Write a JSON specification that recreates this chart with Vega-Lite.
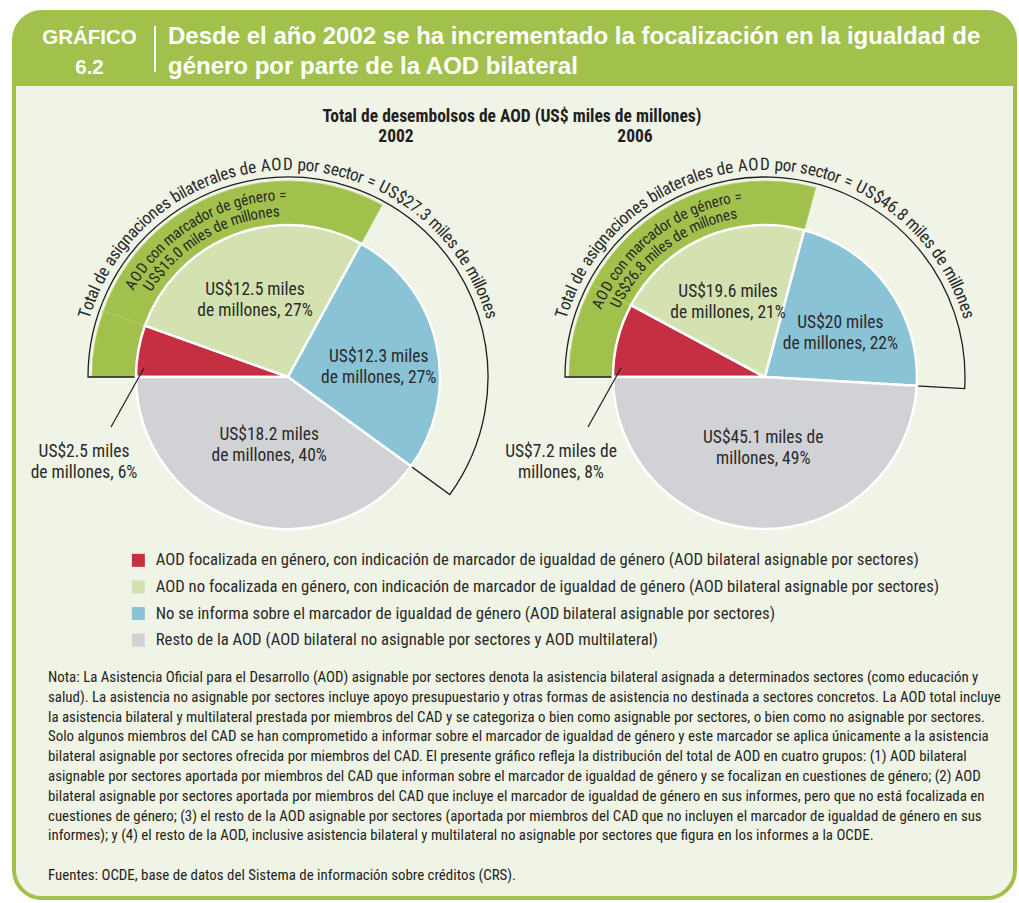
{
  "$schema": "https://vega.github.io/schema/vega-lite/v6.json",
  "width": 1019,
  "height": 903,
  "autosize": {"type": "fit", "contains": "padding"},
  "padding": {"left": 14, "top": 11, "right": 4, "bottom": 5},
  "background": "white",
  "config": {
    "view": {"fill": "#f0f4e6", "stroke": "#a2c14c", "strokeWidth": 4, "cornerRadius": 28},
    "text": {"font": "Roboto Condensed", "color": "#2a2a2a"}
  },
  "datasets": {
    "slices": [
      {"year": "2002", "order": 1, "cat": "AOD focalizada en género, con indicación de marcador de igualdad de género (AOD bilateral asignable por sectores)", "value": 2.5, "label": "US$2.5 miles\nde millones, 6%"},
      {"year": "2002", "order": 2, "cat": "AOD no focalizada en género, con indicación de marcador de igualdad de género (AOD bilateral asignable por sectores)", "value": 12.5, "label": "US$12.5 miles\nde millones, 27%"},
      {"year": "2002", "order": 3, "cat": "No se informa sobre el marcador de igualdad de género (AOD bilateral asignable por sectores)", "value": 12.3, "label": "US$12.3 miles\nde millones, 27%"},
      {"year": "2002", "order": 4, "cat": "Resto de la AOD  (AOD bilateral no asignable por sectores y AOD multilateral)", "value": 18.2, "label": "US$18.2 miles\nde millones, 40%"},
      {"year": "2006", "order": 1, "cat": "AOD focalizada en género, con indicación de marcador de igualdad de género (AOD bilateral asignable por sectores)", "value": 7.2, "label": "US$7.2 miles de\nmillones, 8%"},
      {"year": "2006", "order": 2, "cat": "AOD no focalizada en género, con indicación de marcador de igualdad de género (AOD bilateral asignable por sectores)", "value": 19.6, "label": "US$19.6 miles\nde millones, 21%"},
      {"year": "2006", "order": 3, "cat": "No se informa sobre el marcador de igualdad de género (AOD bilateral asignable por sectores)", "value": 20, "label": "US$20 miles\nde millones, 22%"},
      {"year": "2006", "order": 4, "cat": "Resto de la AOD  (AOD bilateral no asignable por sectores y AOD multilateral)", "value": 45.1, "label": "US$45.1 miles de\nmillones, 49%"}
    ],
    "curved": [
      {"year": "2002", "part": "outer", "txt": "Total de asignaciones bilaterales de AOD por sector = US$27.3 miles de millones"},
      {"year": "2002", "part": "inner1", "txt": "AOD con marcador de género =", "marcador": 15.0, "total": 45.5},
      {"year": "2002", "part": "inner2", "txt": "US$15.0 miles de millones", "marcador": 15.0, "total": 45.5},
      {"year": "2006", "part": "outer", "txt": "Total de asignaciones bilaterales de AOD por sector = US$46.8 miles de millones"},
      {"year": "2006", "part": "inner1", "txt": "AOD con marcador de género =", "marcador": 26.8, "total": 91.9},
      {"year": "2006", "part": "inner2", "txt": "US$26.8 miles de millones", "marcador": 26.8, "total": 91.9}
    ]
  },
  "layer": [
    {
      "data": {"values": [{}]},
      "mark": {"type": "rect", "color": "#a2c14c", "cornerRadiusTopLeft": 28, "cornerRadiusTopRight": 28},
      "encoding": {"x": {"value": 0}, "x2": {"value": "width"}, "y": {"value": -1}, "y2": {"value": 74}}
    },
    {
      "data": {"values": [{}]},
      "mark": {"type": "text", "text": ["GRÁFICO", "6.2"], "font": "Liberation Sans", "fontWeight": "bold", "fontSize": 20.5, "color": "white", "align": "center", "baseline": "alphabetic", "lineHeight": 30},
      "encoding": {"x": {"value": 75.5}, "y": {"value": 32}}
    },
    {
      "data": {"values": [{}]},
      "mark": {"type": "rule", "color": "white", "strokeWidth": 2},
      "encoding": {"x": {"value": 141}, "y": {"value": 14}, "y2": {"value": 60}}
    },
    {
      "data": {"values": [{}]},
      "mark": {"type": "text", "text": ["Desde el año 2002 se ha incrementado la focalización en la igualdad de", "género por parte de la AOD bilateral"], "font": "Liberation Sans", "fontWeight": "bold", "fontSize": 24, "color": "white", "align": "left", "baseline": "alphabetic", "lineHeight": 30},
      "encoding": {"x": {"value": 154}, "y": {"value": 32}}
    },
    {
      "data": {"values": [{}]},
      "mark": {"type": "text", "text": "Total de desembolsos de AOD (US$ miles de millones)", "fontWeight": "bold", "fontSize": 17.5, "color": "#231f20", "align": "center", "baseline": "alphabetic"},
      "encoding": {"x": {"value": 498}, "y": {"value": 110}}
    },
    {
      "data": {"values": [{}]},
      "mark": {"type": "text", "text": "2002", "fontWeight": "bold", "fontSize": 17.5, "color": "#231f20", "align": "center", "baseline": "alphabetic"},
      "encoding": {"x": {"value": 382}, "y": {"value": 130}}
    },
    {
      "data": {"values": [{}]},
      "mark": {"type": "text", "text": "2006", "fontWeight": "bold", "fontSize": 17.5, "color": "#231f20", "align": "center", "baseline": "alphabetic"},
      "encoding": {"x": {"value": 621}, "y": {"value": 130}}
    },
    {
      "data": {"name": "slices"},
      "transform": [
        {"stack": "value", "groupby": ["year"], "sort": [{"field": "order"}], "as": ["v0", "v1"], "offset": "normalize"},
        {"filter": "datum.order <= 2"}
      ],
      "mark": {"type": "arc", "innerRadius": 152, "outerRadius": 196, "color": "#a2c14c", "stroke": "#b4cf6a", "strokeWidth": 0.8},
      "encoding": {
        "x": {"field": "year", "type": "nominal", "scale": {"type": "point", "padding": 0, "domain": ["2002", "2006"], "range": [274, 751]}, "axis": null},
        "y": {"value": 365},
        "theta": {"field": "v0", "type": "quantitative", "scale": {"domain": [0, 1], "range": [4.712389, 10.995574]}},
        "theta2": {"field": "v1"}
      }
    },
    {
      "data": {"name": "slices"},
      "transform": [
        {"stack": "value", "groupby": ["year"], "sort": [{"field": "order"}], "as": ["v0", "v1"], "offset": "normalize"},
        {"filter": "datum.order <= 3"},
        {"aggregate": [{"op": "min", "field": "v0", "as": "a0"}, {"op": "max", "field": "v1", "as": "a1"}], "groupby": ["year"]}
      ],
      "mark": {"type": "arc", "innerRadius": 152, "outerRadius": 200, "fill": "white", "fillOpacity": 0, "stroke": "#1e1e1e", "strokeWidth": 1.3},
      "encoding": {
        "x": {"field": "year", "type": "nominal", "scale": {"type": "point", "padding": 0, "domain": ["2002", "2006"], "range": [274, 751]}, "axis": null},
        "y": {"value": 365},
        "theta": {"field": "a0", "type": "quantitative", "scale": {"domain": [0, 1], "range": [4.712389, 10.995574]}},
        "theta2": {"field": "a1"}
      }
    },
    {
      "data": {"name": "slices"},
      "transform": [
        {"stack": "value", "groupby": ["year"], "sort": [{"field": "order"}], "as": ["v0", "v1"], "offset": "normalize"}
      ],
      "mark": {"type": "arc", "outerRadius": 152, "stroke": "white", "strokeWidth": 2.5},
      "encoding": {
        "x": {"field": "year", "type": "nominal", "scale": {"type": "point", "padding": 0, "domain": ["2002", "2006"], "range": [274, 751]}, "axis": null},
        "y": {"value": 365},
        "theta": {"field": "v0", "type": "quantitative", "scale": {"domain": [0, 1], "range": [4.712389, 10.995574]}},
        "theta2": {"field": "v1"},
        "color": {
          "field": "cat", "type": "nominal",
          "scale": {
            "domain": [
              "AOD focalizada en género, con indicación de marcador de igualdad de género (AOD bilateral asignable por sectores)",
              "AOD no focalizada en género, con indicación de marcador de igualdad de género (AOD bilateral asignable por sectores)",
              "No se informa sobre el marcador de igualdad de género (AOD bilateral asignable por sectores)",
              "Resto de la AOD  (AOD bilateral no asignable por sectores y AOD multilateral)"
            ],
            "range": ["#c62f41", "#d4e1b0", "#8ac2d6", "#d1d2d5"]
          },
          "legend": {
            "orient": "none", "legendX": 116, "legendY": 540, "title": null, "padding": 0,
            "symbolType": "square", "symbolSize": 169, "symbolStrokeWidth": 0,
            "labelFont": "Roboto Condensed", "labelFontSize": 16.7, "labelColor": "#2a2a2a",
            "labelOffset": 9, "labelLimit": 950, "rowPadding": 8.6
          }
        }
      }
    },
    {
      "data": {"name": "slices"},
      "transform": [
        {"stack": "value", "groupby": ["year"], "sort": [{"field": "order"}], "as": ["v0", "v1"], "offset": "normalize"},
        {"calculate": "(datum.v0 + datum.v1) / 2", "as": "mid"},
        {"filter": "datum.order == 2 || datum.order == 3"}
      ],
      "mark": {"type": "text", "radius": 93, "fontSize": 17.5, "lineHeight": 21, "lineBreak": "\n", "align": "center", "baseline": "middle"},
      "encoding": {
        "x": {"field": "year", "type": "nominal", "scale": {"type": "point", "padding": 0, "domain": ["2002", "2006"], "range": [274, 751]}, "axis": null},
        "y": {"value": 365},
        "theta": {"field": "mid", "type": "quantitative", "scale": {"domain": [0, 1], "range": [4.712389, 10.995574]}},
        "text": {"field": "label"}
      }
    },
    {
      "data": {"name": "slices"},
      "transform": [
        {"stack": "value", "groupby": ["year"], "sort": [{"field": "order"}], "as": ["v0", "v1"], "offset": "normalize"},
        {"calculate": "(datum.v0 + datum.v1) / 2", "as": "mid"},
        {"filter": "datum.order == 4"}
      ],
      "mark": {"type": "text", "radius": 61, "fontSize": 17.5, "lineHeight": 21, "lineBreak": "\n", "align": "center", "baseline": "middle"},
      "encoding": {
        "x": {"field": "year", "type": "nominal", "scale": {"type": "point", "padding": 0, "domain": ["2002", "2006"], "range": [274, 751]}, "axis": null},
        "y": {"value": 365},
        "theta": {"field": "mid", "type": "quantitative", "scale": {"domain": [0, 1], "range": [4.712389, 10.995574]}},
        "text": {"field": "label"}
      }
    },
    {
      "data": {"name": "slices"},
      "transform": [{"filter": "datum.order == 1"}],
      "mark": {"type": "text", "fontSize": 17.5, "lineHeight": 21, "lineBreak": "\n", "align": "center", "baseline": "middle", "dx": -204, "dy": 75},
      "encoding": {
        "x": {"field": "year", "type": "nominal", "scale": {"type": "point", "padding": 0, "domain": ["2002", "2006"], "range": [274, 751]}, "axis": null},
        "y": {"value": 365},
        "text": {"field": "label"}
      }
    },
    {
      "data": {"name": "slices"},
      "transform": [{"filter": "datum.order == 1"}],
      "mark": {"type": "rule", "color": "#1e1e1e", "strokeWidth": 1.2, "xOffset": -144, "yOffset": -9, "x2Offset": -177, "y2Offset": 50},
      "encoding": {
        "x": {"field": "year", "type": "nominal", "scale": {"type": "point", "padding": 0, "domain": ["2002", "2006"], "range": [274, 751]}, "axis": null},
        "x2": {"field": "year"},
        "y": {"value": 365},
        "y2": {"value": 365}
      }
    },
    {
      "data": {"name": "curved"},
      "transform": [
        {"filter": "datum.part === 'outer'"},
        {"calculate": "split(datum.txt, '')", "as": "ch"},
        {"flatten": ["ch"]},
        {"calculate": "indexof('ijl', datum.ch) >= 0 ? 0.222 : indexof(' .,:;ftI', datum.ch) >= 0 ? 0.278 : indexof('r()', datum.ch) >= 0 ? 0.333 : indexof('cksvxyz', datum.ch) >= 0 ? 0.5 : datum.ch === 'm' ? 0.833 : datum.ch === 'w' ? 0.722 : datum.ch === '=' ? 0.584 : indexof('CDHNRU', datum.ch) >= 0 ? 0.722 : indexof('OGQ', datum.ch) >= 0 ? 0.778 : indexof('ABEKPSVXY', datum.ch) >= 0 ? 0.667 : indexof('FTZ', datum.ch) >= 0 ? 0.611 : 0.556", "as": "cw"},
        {"window": [{"op": "sum", "field": "cw", "as": "cum"}], "groupby": ["year"], "frame": [null, 0]},
        {"joinaggregate": [{"op": "sum", "field": "cw", "as": "tot"}], "groupby": ["year"]},
        {"calculate": "(datum.cum - datum.cw / 2 - datum.tot / 2) * 17.2 * 0.86 / 207", "as": "th"},
        {"calculate": "datum.th * 180 / PI", "as": "rot"}
      ],
      "mark": {"type": "text", "radius": 207, "fontSize": 17.2, "align": "center", "baseline": "alphabetic"},
      "encoding": {
        "x": {"field": "year", "type": "nominal", "scale": {"type": "point", "padding": 0, "domain": ["2002", "2006"], "range": [274, 751]}, "axis": null},
        "y": {"value": 365},
        "theta": {"field": "th", "type": "quantitative", "scale": null},
        "angle": {"field": "rot", "type": "quantitative", "scale": null},
        "text": {"field": "ch"}
      }
    },
    {
      "data": {"name": "curved"},
      "transform": [
        {"filter": "datum.part === 'inner1'"},
        {"calculate": "split(datum.txt, '')", "as": "ch"},
        {"flatten": ["ch"]},
        {"calculate": "indexof('ijl', datum.ch) >= 0 ? 0.222 : indexof(' .,:;ftI', datum.ch) >= 0 ? 0.278 : indexof('r()', datum.ch) >= 0 ? 0.333 : indexof('cksvxyz', datum.ch) >= 0 ? 0.5 : datum.ch === 'm' ? 0.833 : datum.ch === 'w' ? 0.722 : datum.ch === '=' ? 0.584 : indexof('CDHNRU', datum.ch) >= 0 ? 0.722 : indexof('OGQ', datum.ch) >= 0 ? 0.778 : indexof('ABEKPSVXY', datum.ch) >= 0 ? 0.667 : indexof('FTZ', datum.ch) >= 0 ? 0.611 : 0.556", "as": "cw"},
        {"window": [{"op": "sum", "field": "cw", "as": "cum"}], "groupby": ["year"], "frame": [null, 0]},
        {"joinaggregate": [{"op": "sum", "field": "cw", "as": "tot"}], "groupby": ["year"]},
        {"calculate": "2 * PI * (0.75 + 0.5 * datum.marcador / datum.total) + (datum.cum - datum.cw / 2 - datum.tot / 2) * 15.3 * 0.86 / 177", "as": "th"},
        {"calculate": "datum.th * 180 / PI", "as": "rot"}
      ],
      "mark": {"type": "text", "radius": 177, "fontSize": 15.3, "align": "center", "baseline": "alphabetic"},
      "encoding": {
        "x": {"field": "year", "type": "nominal", "scale": {"type": "point", "padding": 0, "domain": ["2002", "2006"], "range": [274, 751]}, "axis": null},
        "y": {"value": 365},
        "theta": {"field": "th", "type": "quantitative", "scale": null},
        "angle": {"field": "rot", "type": "quantitative", "scale": null},
        "text": {"field": "ch"}
      }
    },
    {
      "data": {"name": "curved"},
      "transform": [
        {"filter": "datum.part === 'inner2'"},
        {"calculate": "split(datum.txt, '')", "as": "ch"},
        {"flatten": ["ch"]},
        {"calculate": "indexof('ijl', datum.ch) >= 0 ? 0.222 : indexof(' .,:;ftI', datum.ch) >= 0 ? 0.278 : indexof('r()', datum.ch) >= 0 ? 0.333 : indexof('cksvxyz', datum.ch) >= 0 ? 0.5 : datum.ch === 'm' ? 0.833 : datum.ch === 'w' ? 0.722 : datum.ch === '=' ? 0.584 : indexof('CDHNRU', datum.ch) >= 0 ? 0.722 : indexof('OGQ', datum.ch) >= 0 ? 0.778 : indexof('ABEKPSVXY', datum.ch) >= 0 ? 0.667 : indexof('FTZ', datum.ch) >= 0 ? 0.611 : 0.556", "as": "cw"},
        {"window": [{"op": "sum", "field": "cw", "as": "cum"}], "groupby": ["year"], "frame": [null, 0]},
        {"joinaggregate": [{"op": "sum", "field": "cw", "as": "tot"}], "groupby": ["year"]},
        {"calculate": "2 * PI * (0.75 + 0.5 * datum.marcador / datum.total) + (datum.cum - datum.cw / 2 - datum.tot / 2) * 15.3 * 0.86 / 161", "as": "th"},
        {"calculate": "datum.th * 180 / PI", "as": "rot"}
      ],
      "mark": {"type": "text", "radius": 161, "fontSize": 15.3, "align": "center", "baseline": "alphabetic"},
      "encoding": {
        "x": {"field": "year", "type": "nominal", "scale": {"type": "point", "padding": 0, "domain": ["2002", "2006"], "range": [274, 751]}, "axis": null},
        "y": {"value": 365},
        "theta": {"field": "th", "type": "quantitative", "scale": null},
        "angle": {"field": "rot", "type": "quantitative", "scale": null},
        "text": {"field": "ch"}
      }
    },
    {
      "data": {"values": [{}]},
      "mark": {
        "type": "text", "fontSize": 14.9, "lineHeight": 19.8, "align": "left", "baseline": "alphabetic", "color": "#231f20",
        "text": [
          "Nota: La Asistencia Oficial para el Desarrollo (AOD) asignable por sectores denota la asistencia bilateral asignada a determinados sectores (como educación y",
          "salud). La asistencia no asignable por sectores incluye apoyo presupuestario y otras formas de asistencia no destinada a sectores concretos. La AOD total incluye",
          "la asistencia bilateral y multilateral prestada por miembros del CAD y se categoriza o bien como asignable por sectores, o bien como no asignable por sectores.",
          "Solo algunos miembros del CAD se han comprometido a informar sobre el marcador de igualdad de género y este marcador se aplica únicamente a la asistencia",
          "bilateral asignable por sectores ofrecida por miembros del CAD. El presente gráfico refleja la distribución del total de AOD en cuatro grupos: (1) AOD bilateral",
          "asignable por sectores aportada por miembros del CAD que informan sobre el marcador de igualdad de género y se focalizan en cuestiones de género; (2) AOD",
          "bilateral asignable por sectores aportada por miembros del CAD que incluye el marcador de igualdad de género en sus informes, pero que no está focalizada en",
          "cuestiones de género; (3) el resto de la AOD asignable por sectores (aportada por miembros del CAD que no incluyen el marcador de igualdad de género en sus",
          "informes); y (4) el resto de la AOD, inclusive asistencia bilateral y multilateral no asignable por sectores que figura en los informes a la OCDE."
        ]
      },
      "encoding": {"x": {"value": 34}, "y": {"value": 670}}
    },
    {
      "data": {"values": [{}]},
      "mark": {"type": "text", "fontSize": 14.9, "align": "left", "baseline": "alphabetic", "color": "#231f20", "text": "Fuentes: OCDE, base de datos del Sistema de información sobre créditos (CRS)."},
      "encoding": {"x": {"value": 34}, "y": {"value": 868}}
    }
  ]
}
